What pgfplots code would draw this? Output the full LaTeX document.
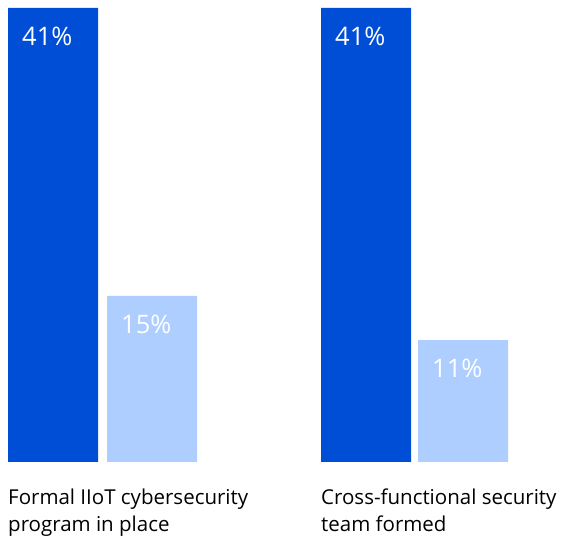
\documentclass[border=0pt]{standalone}
\usepackage{pgfplots}
\pgfplotsset{compat=1.18}
\usepackage{fontspec}
\setmainfont{Open Sans}
\definecolor{darkb}{RGB}{0,78,214}
\definecolor{lightb}{RGB}{174,206,255}
\begin{document}
\begin{tikzpicture}
\begin{axis}[
  scale only axis,
  width=563pt, height=454pt,
  xmin=0, xmax=563, ymin=0, ymax=41,
  axis x line=bottom, axis y line=none,
  axis line style={draw=none},
  tick style={draw=none},
  ytick=\empty,
  xtick={8,321},
  xticklabels={{Formal IIoT cybersecurity\\program in place},{Cross-functional security\\team formed}},
  xticklabel style={anchor=north west, align=left, inner sep=0pt, yshift=-22pt,
    font=\fontsize{20.5}{27}\selectfont},
  clip=false,
  ybar, bar width=90, bar shift=0pt,
  /pgf/number format/assume math mode=true,
  nodes near coords={\pgfmathprintnumber{\pgfplotspointmeta}\%},
  every node near coord/.append style={anchor=north west, xshift=-31pt, yshift=-19pt,
    text=white, font=\fontsize{25.5}{29}\selectfont, inner sep=0pt},
]
\addplot[fill=darkb, draw=none] coordinates {(53,41) (366,41)};
\addplot[fill=lightb, draw=none] coordinates {(152,15) (463,11)};
\path (rel axis cs:0,0) ++(0,-75pt) coordinate (bl);
\path (rel axis cs:1,1) ++(0,8pt) coordinate (tr);
\end{axis}
\useasboundingbox (bl) rectangle (tr);
\end{tikzpicture}
\end{document}
